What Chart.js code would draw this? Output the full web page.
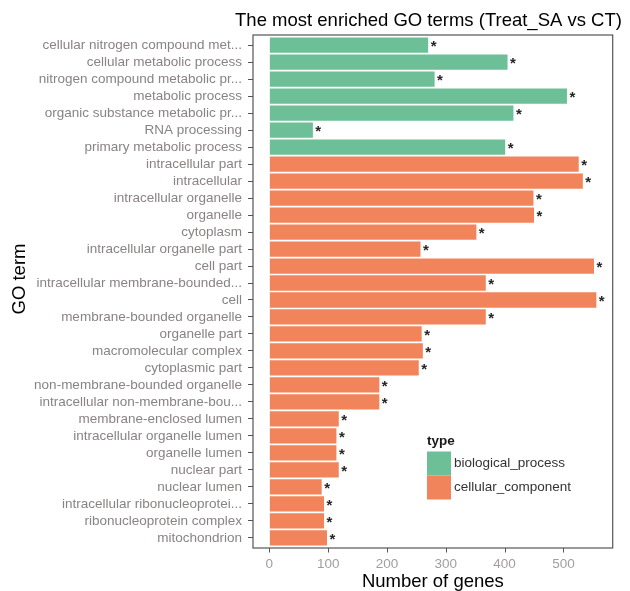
<!DOCTYPE html>
<html>
<head>
<meta charset="utf-8">
<script src="https://cdn.jsdelivr.net/npm/chart.js@4/dist/chart.umd.min.js"></script>
<style>
  html, body { margin: 0; padding: 0; background: #ffffff; }
  canvas { display: block; }
</style>
</head>
<body>
<canvas id="goChart" width="630" height="591"></canvas>
<script>
// GO terms, top to bottom
const terms = [
  'cellular nitrogen compound met...',
  'cellular metabolic process',
  'nitrogen compound metabolic pr...',
  'metabolic process',
  'organic substance metabolic pr...',
  'RNA processing',
  'primary metabolic process',
  'intracellular part',
  'intracellular',
  'intracellular organelle',
  'organelle',
  'cytoplasm',
  'intracellular organelle part',
  'cell part',
  'intracellular membrane-bounded...',
  'cell',
  'membrane-bounded organelle',
  'organelle part',
  'macromolecular complex',
  'cytoplasmic part',
  'non-membrane-bounded organelle',
  'intracellular non-membrane-bou...',
  'membrane-enclosed lumen',
  'intracellular organelle lumen',
  'organelle lumen',
  'nuclear part',
  'nuclear lumen',
  'intracellular ribonucleoprotei...',
  'ribonucleoprotein complex',
  'mitochondrion'
];

const termTypes = [
  'biological_process', 'biological_process', 'biological_process', 'biological_process',
  'biological_process', 'biological_process', 'biological_process',
  'cellular_component', 'cellular_component', 'cellular_component', 'cellular_component',
  'cellular_component', 'cellular_component', 'cellular_component', 'cellular_component',
  'cellular_component', 'cellular_component', 'cellular_component', 'cellular_component',
  'cellular_component', 'cellular_component', 'cellular_component', 'cellular_component',
  'cellular_component', 'cellular_component', 'cellular_component', 'cellular_component',
  'cellular_component', 'cellular_component', 'cellular_component'
];

const geneCounts = [
  270, 405, 281, 506, 415, 74, 401,
  526, 533, 449, 450, 352, 257, 552, 368, 556, 368,
  259, 261, 254, 187, 187, 118, 114, 114, 118, 89, 93, 93, 98
];

// significance mark shown after each bar
const sigMarks = [
  '*', '*', '*', '*', '*', '*', '*', '*', '*', '*',
  '*', '*', '*', '*', '*', '*', '*', '*', '*', '*',
  '*', '*', '*', '*', '*', '*', '*', '*', '*', '*'
];

const typeNames = ['biological_process', 'cellular_component'];
const typeColors = ['#6cbf97', '#f2845c'];

const xTickValues = [0, 100, 200, 300, 400, 500];
const xTickLabels = ['0', '100', '200', '300', '400', '500'];

const chartTitle = 'The most enriched GO terms (Treat_SA vs CT)';
const xTitle = 'Number of genes';
const yTitle = 'GO term';
const legendTitle = 'type';

// ---- layout constants ----
const FONT = "'Liberation Sans', Arial, Helvetica, sans-serif";
const PANEL = { left: 253, right: 612.7, top: 35, bottom: 548 };
const CAT_EXPAND = 0.6;               // discrete axis expansion, in category units
const nCat = terms.length;
const unit = (PANEL.bottom - PANEL.top) / (nCat - 1 + 2 * CAT_EXPAND);
const innerTop = PANEL.top + (CAT_EXPAND - 0.5) * unit;
const innerBottom = PANEL.bottom - (CAT_EXPAND - 0.5) * unit;

const maxCount = Math.max(...geneCounts);
const xPad = maxCount * 0.05;

const datasets = typeNames.map((t, i) => ({
  label: t,
  data: geneCounts.map((v, j) => (termTypes[j] === t ? v : null)),
  backgroundColor: typeColors[i],
  borderWidth: 0,
  grouped: false,
  barPercentage: 0.9,
  categoryPercentage: 1.0
}));

const decorations = {
  id: 'decorations',
  afterDatasetsDraw(chart) {
    const ctx = chart.ctx;
    const xs = chart.scales.x;
    const ys = chart.scales.y;
    ctx.save();
    ctx.fillStyle = '#262626';
    ctx.font = 'bold 15px ' + FONT;
    ctx.textAlign = 'left';
    ctx.textBaseline = 'middle';
    geneCounts.forEach((v, j) => {
      const px = xs.getPixelForValue(v) + 2.5;
      const py = ys.getPixelForValue(j) + 2;
      ctx.fillText(sigMarks[j], px, py);
    });
    ctx.restore();
  },
  afterDraw(chart) {
    const ctx = chart.ctx;
    const xs = chart.scales.x;
    const ca = chart.chartArea;
    ctx.save();
    // panel frame
    ctx.strokeStyle = '#555555';
    ctx.lineWidth = 1.2;
    ctx.strokeRect(ca.left, PANEL.top, ca.right - ca.left, PANEL.bottom - PANEL.top);
    // x tick marks below the frame
    ctx.lineWidth = 1;
    xTickValues.forEach(v => {
      const px = Math.round(xs.getPixelForValue(v)) + 0.5;
      ctx.beginPath();
      ctx.moveTo(px, PANEL.bottom);
      ctx.lineTo(px, PANEL.bottom + 4.5);
      ctx.stroke();
    });

    // titles
    ctx.fillStyle = '#000000';
    ctx.font = '18.5px ' + FONT;
    ctx.textAlign = 'center';
    ctx.textBaseline = 'middle';
    ctx.fillText(chartTitle, 428.5, 21);
    ctx.fillText(xTitle, (ca.left + ca.right) / 2, 582);
    ctx.save();
    ctx.translate(20, 279);
    ctx.rotate(-Math.PI / 2);
    ctx.fillText(yTitle, 0, 0);
    ctx.restore();

    // legend
    const lx = 427, ly = 451.5, key = 24;
    ctx.font = 'bold 13.5px ' + FONT;
    ctx.textAlign = 'left';
    ctx.fillStyle = '#1a1a1a';
    ctx.fillText(legendTitle, lx, 441.5);
    ctx.font = '13.5px ' + FONT;
    typeNames.forEach((t, i) => {
      const y0 = ly + i * key;
      ctx.fillStyle = typeColors[i];
      ctx.fillRect(lx, y0, key, key);
      ctx.fillStyle = '#333333';
      ctx.fillText(t, lx + key + 3, y0 + key / 2);
    });
    ctx.restore();
  }
};

new Chart(document.getElementById('goChart'), {
  type: 'bar',
  data: { labels: terms, datasets },
  options: {
    indexAxis: 'y',
    responsive: false,
    animation: false,
    layout: {
      padding: { left: 0, right: 630 - PANEL.right, top: innerTop, bottom: 0 }
    },
    plugins: {
      legend: { display: false },
      title: { display: false },
      tooltip: { enabled: false }
    },
    scales: {
      x: {
        type: 'linear',
        min: -xPad,
        max: maxCount + xPad,
        afterBuildTicks(scale) {
          scale.ticks = xTickValues.map(v => ({ value: v }));
        },
        afterFit(scale) {
          scale.height = 591 - innerBottom;
        },
        grid: { display: true, drawOnChartArea: false, drawTicks: false },
        border: { display: false },
        ticks: {
          padding: 10,
          color: '#a39e9e',
          font: { family: FONT, size: 13.5 },
          callback: (v) => xTickLabels[xTickValues.indexOf(v)]
        }
      },
      y: {
        type: 'category',
        offset: true,
        afterFit(scale) {
          scale.width = PANEL.left;
        },
        grid: {
          display: true,
          offset: false,
          drawOnChartArea: false,
          drawTicks: true,
          tickLength: 5,
          tickColor: '#555555'
        },
        border: { display: false },
        ticks: {
          padding: 6,
          color: '#8a8383',
          font: { family: FONT, size: 13.5 },
          autoSkip: false
        }
      }
    }
  },
  plugins: [decorations]
});
</script>
</body>
</html>
